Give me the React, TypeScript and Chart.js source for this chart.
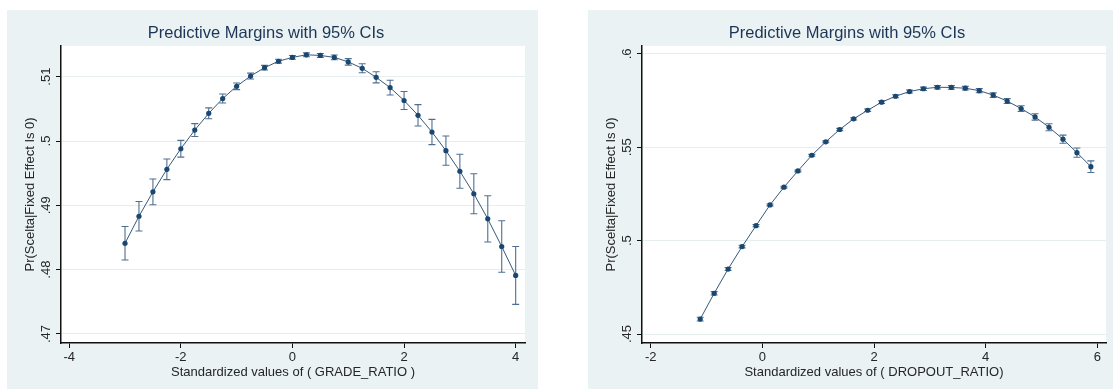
import React, { useEffect, useRef } from 'react';
import { Chart, registerables } from 'chart.js';

Chart.register(...registerables);

const FONT = "'Liberation Sans', Arial, Helvetica, sans-serif";

const CHART_TITLE = 'Predictive Margins with 95% CIs';
const Y_TITLE = 'Pr(Scelta|Fixed Effect Is 0)';
const GRADE_X_TITLE = 'Standardized values of ( GRADE_RATIO )';
const DROPOUT_X_TITLE = 'Standardized values of ( DROPOUT_RATIO)';

// Left panel: GRADE_RATIO
const gradeX = [-3, -2.75, -2.5, -2.25, -2, -1.75, -1.5, -1.25, -1, -0.75, -0.5, -0.25, 0, 0.25, 0.5, 0.75, 1, 1.25, 1.5, 1.75, 2, 2.25, 2.5, 2.75, 3, 3.25, 3.5, 3.75, 4];
const gradeMargin = [0.4841, 0.4883, 0.4921, 0.4956, 0.4988, 0.5017, 0.5043, 0.5066, 0.5085, 0.5101, 0.5114, 0.5124, 0.5130, 0.5134, 0.5133, 0.5130, 0.5123, 0.5113, 0.5099, 0.5083, 0.5063, 0.5040, 0.5014, 0.4985, 0.4953, 0.4918, 0.4879, 0.4836, 0.4791];
const gradeCIHalf = [0.0026, 0.0023, 0.0020, 0.0016, 0.0013, 0.0010, 0.00085, 0.0007, 0.00052, 0.00045, 0.00036, 0.0003, 0.0003, 0.0003, 0.0003, 0.00036, 0.0005, 0.0007, 0.00086, 0.00114, 0.0014, 0.00166, 0.00197, 0.00228, 0.00265, 0.0031, 0.0036, 0.0040, 0.0045];
const gradeXTicks = [-4, -2, 0, 2, 4];
const gradeYTicks = [0.47, 0.48, 0.49, 0.5, 0.51];

// Right panel: DROPOUT_RATIO
const dropoutX = [-1.115, -0.865, -0.615, -0.365, -0.115, 0.135, 0.385, 0.635, 0.885, 1.135, 1.385, 1.635, 1.885, 2.135, 2.385, 2.635, 2.885, 3.135, 3.385, 3.635, 3.885, 4.135, 4.385, 4.635, 4.885, 5.135, 5.385, 5.635, 5.885];
const dropoutMargin = [0.4580, 0.4718, 0.4848, 0.4968, 0.5080, 0.5191, 0.5286, 0.5373, 0.5457, 0.5529, 0.5595, 0.5652, 0.5698, 0.5741, 0.5773, 0.5798, 0.5813, 0.5821, 0.5820, 0.5816, 0.5803, 0.5779, 0.5747, 0.5707, 0.5662, 0.5607, 0.5543, 0.5471, 0.5396];
const dropoutCIHalf = [0.0010, 0.0009, 0.0008, 0.0007, 0.0006, 0.0005, 0.0005, 0.0005, 0.0005, 0.0005, 0.0006, 0.0006, 0.0007, 0.0007, 0.0008, 0.0008, 0.0009, 0.0009, 0.0010, 0.0010, 0.0011, 0.0012, 0.0013, 0.0015, 0.0017, 0.0019, 0.0022, 0.0025, 0.0031];
const dropoutXTicks = [-2, 0, 2, 4, 6];
const dropoutYTicks = [0.45, 0.5, 0.55, 0.6];

const PANEL_BG = '#eaf2f3';
const NAVY = '#1a476f';
const LINE_COLOR = '#36597d';
const CI_COLOR = '#4f6f91';
const TEXT = '#262626';
const TITLE_COLOR = '#1c3556';

const fmtY = (v: number) => v.toFixed(2).replace(/0+$/, '').replace(/^0/, '');

interface PanelSpec {
  xs: number[];
  ys: number[];
  half: number[];
  xTicks: number[];
  yTicks: number[];
  xMin: number;
  xMax: number;
  yMin: number;
  yMax: number;
  xTitle: string;
  rightPad: number;
}

function makePlugin(spec: PanelSpec) {
  return {
    id: 'stataPanel',
    beforeDraw(chart: any) {
      const { ctx, chartArea: a } = chart;
      ctx.save();
      ctx.fillStyle = '#ffffff';
      ctx.fillRect(a.left, a.top, a.right - a.left, a.bottom - a.top);
      ctx.restore();
    },
    beforeDatasetsDraw(chart: any) {
      const { ctx } = chart;
      const xs = chart.scales.x;
      const ys = chart.scales.y;
      ctx.save();
      ctx.strokeStyle = CI_COLOR;
      ctx.lineWidth = 1.1;
      for (let i = 0; i < spec.xs.length; i++) {
        const px = xs.getPixelForValue(spec.xs[i]);
        const lo = ys.getPixelForValue(spec.ys[i] - spec.half[i]);
        const hi = ys.getPixelForValue(spec.ys[i] + spec.half[i]);
        ctx.beginPath();
        ctx.moveTo(px, lo);
        ctx.lineTo(px, hi);
        ctx.moveTo(px - 3.5, lo);
        ctx.lineTo(px + 3.5, lo);
        ctx.moveTo(px - 3.5, hi);
        ctx.lineTo(px + 3.5, hi);
        ctx.stroke();
      }
      ctx.restore();
    },
    afterDraw(chart: any) {
      const { ctx, chartArea: a } = chart;
      const ys = chart.scales.y;
      ctx.save();
      ctx.fillStyle = TEXT;
      ctx.font = `13px ${FONT}`;
      ctx.textAlign = 'center';
      ctx.textBaseline = 'alphabetic';
      for (const v of spec.yTicks) {
        const py = ys.getPixelForValue(v);
        ctx.save();
        ctx.translate(a.left - 11.5, py);
        ctx.rotate(-Math.PI / 2);
        ctx.fillText(fmtY(v), 0, 0);
        ctx.restore();
      }
      ctx.restore();
    },
  };
}

function buildConfig(spec: PanelSpec): any {
  return {
    type: 'line',
    data: {
      datasets: [
        {
          data: spec.xs.map((x, i) => ({ x, y: spec.ys[i] })),
          borderColor: LINE_COLOR,
          borderWidth: 1,
          pointRadius: 2.6,
          pointBackgroundColor: NAVY,
          pointBorderColor: NAVY,
          pointBorderWidth: 0,
          pointStyle: 'circle',
          tension: 0,
          fill: false,
        },
      ],
    },
    options: {
      animation: false,
      responsive: false,
      devicePixelRatio: 1,
      layout: { padding: { left: 0, right: spec.rightPad, top: 0, bottom: 0 } },
      plugins: {
        legend: { display: false },
        tooltip: { enabled: false },
        title: {
          display: true,
          text: CHART_TITLE,
          color: TITLE_COLOR,
          font: { family: FONT, size: 16.5, weight: 'normal' },
          padding: { top: 14, bottom: 2 },
        },
      },
      scales: {
        x: {
          type: 'linear',
          min: spec.xMin,
          max: spec.xMax,
          afterBuildTicks: (s: any) => {
            s.ticks = spec.xTicks.map((v) => ({ value: v }));
          },
          afterFit: (s: any) => {
            s.height = 46;
          },
          grid: {
            drawOnChartArea: false,
            drawTicks: true,
            tickLength: 5,
            tickColor: '#111',
            tickWidth: 1,
          },
          border: { display: true, color: '#111', width: 1.5 },
          ticks: {
            color: TEXT,
            font: { family: FONT, size: 13 },
            padding: 2,
            maxRotation: 0,
            autoSkip: false,
            callback: (v: number) => String(v),
          },
          title: {
            display: true,
            text: spec.xTitle,
            color: TEXT,
            font: { family: FONT, size: 13 },
            padding: { top: 0, bottom: 9 },
          },
        },
        y: {
          type: 'linear',
          min: spec.yMin,
          max: spec.yMax,
          afterBuildTicks: (s: any) => {
            s.ticks = spec.yTicks.map((v) => ({ value: v }));
          },
          afterFit: (s: any) => {
            s.width = 54;
          },
          grid: {
            drawOnChartArea: true,
            color: '#e6eff0',
            lineWidth: 1,
            drawTicks: true,
            tickLength: 5,
            tickColor: '#111',
            tickWidth: 1,
          },
          border: { display: true, color: '#111', width: 1.5 },
          ticks: {
            color: 'rgba(0,0,0,0)',
            font: { family: FONT, size: 13 },
            autoSkip: false,
            callback: (v: number) => fmtY(v),
          },
          title: {
            display: true,
            text: Y_TITLE,
            color: TEXT,
            font: { family: FONT, size: 13 },
            padding: { top: 16, bottom: 0 },
          },
        },
      },
    },
    plugins: [makePlugin(spec)],
  };
}

const gradeSpec: PanelSpec = {
  xs: gradeX,
  ys: gradeMargin,
  half: gradeCIHalf,
  xTicks: gradeXTicks,
  yTicks: gradeYTicks,
  xMin: -4.147,
  xMax: 4.167,
  yMin: 0.4686,
  yMax: 0.5148,
  xTitle: GRADE_X_TITLE,
  rightPad: 13,
};

const dropoutSpec: PanelSpec = {
  xs: dropoutX,
  ys: dropoutMargin,
  half: dropoutCIHalf,
  xTicks: dropoutXTicks,
  yTicks: dropoutYTicks,
  xMin: -2.158,
  xMax: 6.156,
  yMin: 0.4452,
  yMax: 0.6043,
  xTitle: DROPOUT_X_TITLE,
  rightPad: 7,
};

function Panel({ spec, left, width }: { spec: PanelSpec; left: number; width: number }) {
  const ref = useRef<HTMLCanvasElement | null>(null);
  useEffect(() => {
    if (!ref.current) return;
    const chart = new Chart(ref.current, buildConfig(spec));
    return () => chart.destroy();
  }, []);
  return (
    <div style={{ position: 'absolute', left, top: 10, width, height: 379, background: PANEL_BG }}>
      <canvas ref={ref} width={width} height={379} style={{ display: 'block', width, height: 379 }} />
    </div>
  );
}

export default function App() {
  return (
    <div style={{ position: 'absolute', left: 0, top: 0, width: 1113, height: 390, background: '#ffffff', overflow: 'hidden' }}>
      <Panel spec={gradeSpec} left={7} width={531} />
      <Panel spec={dropoutSpec} left={588} width={525} />
    </div>
  );
}
